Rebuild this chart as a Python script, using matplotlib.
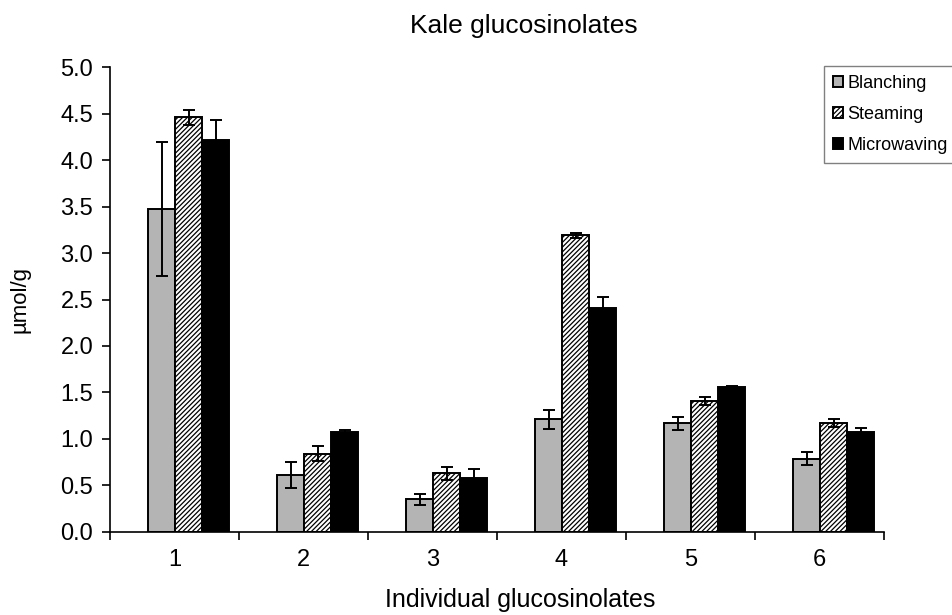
import numpy as np
import matplotlib
matplotlib.use("Agg")
import matplotlib.pyplot as plt

plt.rcParams['font.family'] = ['Liberation Sans', 'DejaVu Sans']
plt.rcParams['hatch.linewidth'] = 0.9

# data (umol/g)
categories = ["1", "2", "3", "4", "5", "6"]
methods = ["Blanching", "Steaming", "Microwaving"]
blanching = [3.47, 0.61, 0.35, 1.21, 1.17, 0.79]
blanching_err = [0.72, 0.14, 0.06, 0.10, 0.07, 0.07]
steaming = [4.46, 0.84, 0.63, 3.19, 1.41, 1.17]
steaming_err = [0.08, 0.08, 0.07, 0.03, 0.04, 0.04]
microwaving = [4.22, 1.08, 0.58, 2.41, 1.56, 1.07]
microwaving_err = [0.21, 0.02, 0.10, 0.12, 0.01, 0.05]

fig = plt.figure(figsize=(9.52, 6.15), dpi=100)
ax = fig.add_axes([0.1155, 0.135, 0.813, 0.756])

x = np.arange(1, len(categories) + 1)
w = 0.21
shift = 0.11  # groups sit a bit right of the category centre, like the original
err_kw = dict(ecolor="black", elinewidth=1.4, capsize=4, capthick=1.4)

ax.bar(x + shift - w, blanching, w, yerr=blanching_err, color="#b4b4b4",
       edgecolor="black", linewidth=1.4, label=methods[0], error_kw=err_kw)
ax.bar(x + shift, steaming, w, yerr=steaming_err, color="white", hatch="///////",
       edgecolor="black", linewidth=1.4, label=methods[1], error_kw=err_kw)
ax.bar(x + shift + w, microwaving, w, yerr=microwaving_err, color="black",
       edgecolor="black", linewidth=1.4, label=methods[2], error_kw=err_kw)

ax.set_xlim(0.5, len(categories) + 0.5)
ax.set_ylim(0, 5.0)
ax.set_yticks(np.arange(0, 5.01, 0.5))
ax.set_yticklabels([f"{v:.1f}" for v in np.arange(0, 5.01, 0.5)])
ax.set_xticks(x)
ax.set_xticklabels(categories)
ax.set_xticks(np.arange(0.5, len(categories) + 1), minor=True)
ax.tick_params(axis="x", which="major", length=0, labelsize=17, pad=12)
ax.tick_params(axis="x", which="minor", length=6, width=1.2, direction="out")
ax.tick_params(axis="y", length=6, width=1.2, labelsize=17, pad=6)

for s in ["top", "right"]:
    ax.spines[s].set_visible(False)
for s in ["left", "bottom"]:
    ax.spines[s].set_linewidth(1.2)

ax.set_ylabel("µmol/g", fontsize=16)
ax.yaxis.set_label_coords(-0.103, 0.5)
ax.set_xlabel("Individual glucosinolates", fontsize=18, va="center")
ax.xaxis.set_label_coords(0.53, -0.146)
fig.text(0.55, 0.957, "Kale glucosinolates", ha="center", va="center", fontsize=19)

leg = fig.legend(loc="upper left", bbox_to_anchor=(0.866, 0.893), fontsize=13,
                 handlelength=0.55, handleheight=0.55, handletextpad=0.2,
                 labelspacing=0.78, borderpad=0.5, fancybox=False, framealpha=1,
                 edgecolor="#808080", borderaxespad=0)
leg.get_frame().set_linewidth(1.0)

fig.savefig("out.png", dpi=100)
